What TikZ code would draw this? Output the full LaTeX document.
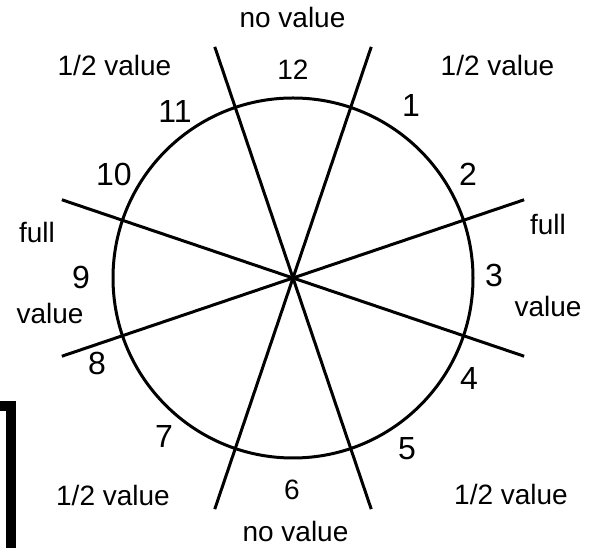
\documentclass[tikz,border=0pt]{standalone}
\usepackage{fontspec}
\setmainfont{Liberation Sans}
\usepackage{tikz}
\usetikzlibrary{positioning}

\begin{document}
\begin{tikzpicture}[x=1pt, y=1pt, line width=3pt,
    lbl/.style={font=\fontsize{28}{30}\selectfont, anchor=base, inner sep=0pt},
    num/.style={font=\fontsize{32}{34}\selectfont, anchor=base, inner sep=0pt}]
    \useasboundingbox (0,0) rectangle (597,548);

    % centre and spoke ends
    \coordinate (c) at (293,270);
    \coordinate (a1) at ([shift={(c)}]108.7:244);
    \coordinate (a2) at ([shift={(c)}]288.7:244);
    \coordinate (b1) at ([shift={(c)}]71.3:244);
    \coordinate (b2) at ([shift={(c)}]251.3:244);
    \coordinate (c1) at ([shift={(c)}]161.3:244);
    \coordinate (c2) at ([shift={(c)}]341.3:244);
    \coordinate (d1) at ([shift={(c)}]198.7:244);
    \coordinate (d2) at ([shift={(c)}]18.7:244);

    % dial
    \draw (c) circle[radius=180];
    \draw (a1) -- (a2);
    \draw (b1) -- (b2);
    \draw (c1) -- (c2);
    \draw (d1) -- (d2);

    % hours
    \node[lbl] (h12) at (293,468) {12};
    \node[num] (h1) at (411,431) {1};
    \node[num] (h2) at (468,362) {2};
    \node[num] (h3) at (494,261) {3};
    \node[num] (h4) at (469,158) {4};
    \node[num] (h5) at (407,88) {5};
    \node[lbl] (h6) at (292,48) {6};
    \node[num] (h7) at (164,100) {7};
    \node[num] (h8) at (97,173) {8};
    \node[num] (h9) at (81,259) {9};
    \node[num] (h10) at (114,362) {10};
    \node[num] (h11) at (175,425) {11};

    % values
    \node[lbl] (vtop) at (292.5,520) {no value};
    \node[lbl] (vtl) at (114.5,472) {1/2 value};
    \node[lbl] (vtr) at (497.5,472) {1/2 value};
    \node[lbl] (vr1) at (548,313) {full};
    \node[lbl] (vr2) at (548,231) {value};
    \node[lbl] (vl1) at (37,305) {full};
    \node[lbl] (vl2) at (50,224) {value};
    \node[lbl] (vbl) at (113,42) {1/2 value};
    \node[lbl] (vbr) at (511,43) {1/2 value};
    \node[lbl] (vbot) at (295.5,6) {no value};

    % frame corner
    \draw[line width=10pt] (-6,142) -- (11,142) -- (11,-6);
\end{tikzpicture}
\end{document}
